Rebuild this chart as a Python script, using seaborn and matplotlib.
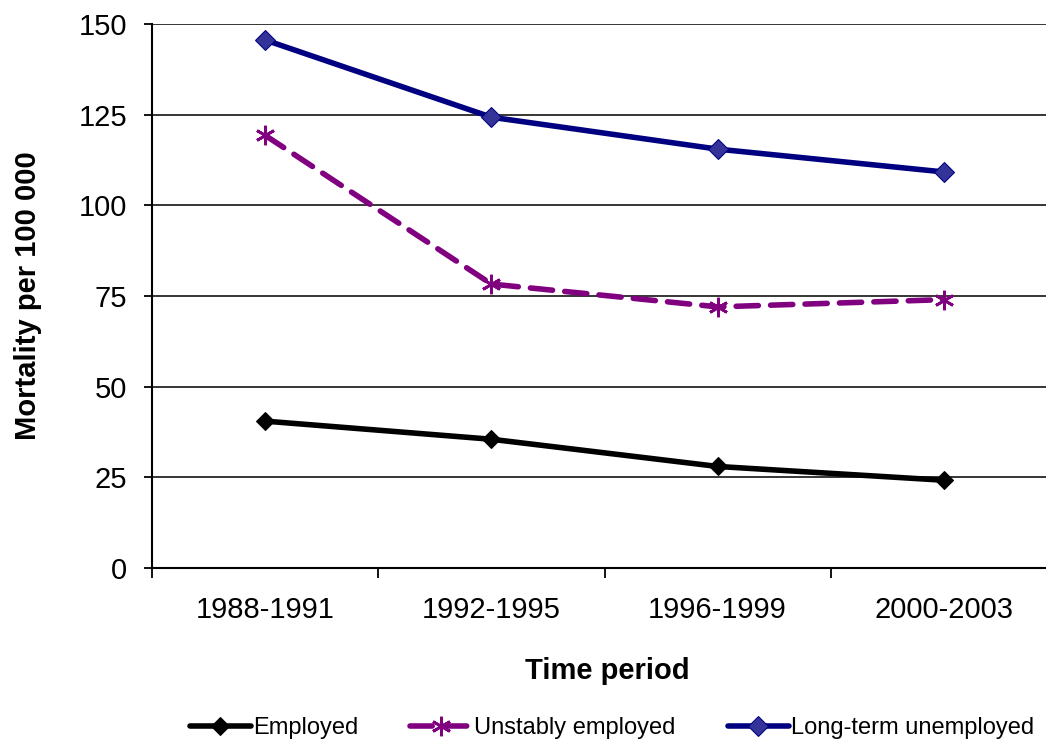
import matplotlib
matplotlib.use('Agg')
import matplotlib.pyplot as plt
import seaborn as sns
import pandas as pd
from matplotlib.ticker import FixedLocator, NullFormatter

periods = ['1988-1991', '1992-1995', '1996-1999', '2000-2003']
employed = [40.5, 35.5, 28.0, 24.2]
unstably_employed = [119.3, 78.3, 72.0, 74.0]
long_term_unemployed = [145.6, 124.3, 115.5, 109.2]
y_ticks = [0, 25, 50, 75, 100, 125, 150]

sns.set_style('white')
plt.rcParams['font.family'] = ['Liberation Sans', 'DejaVu Sans']
plt.rcParams['text.color'] = 'black'
plt.rcParams['axes.labelcolor'] = 'black'
plt.rcParams['xtick.color'] = 'black'
plt.rcParams['ytick.color'] = 'black'

fig = plt.figure(figsize=(10.46, 7.44), dpi=100)
# axes right edge runs past the figure, as in the reference
ax = fig.add_axes([152 / 1046, 176 / 744, 905 / 1046, 544 / 744])

df = pd.DataFrame({'period': periods,
                   'Employed': employed,
                   'Unstably employed': unstably_employed,
                   'Long-term unemployed': long_term_unemployed})

sns.lineplot(data=df, x='period', y='Employed', ax=ax, color='black', lw=4,
             marker='D', markersize=9, markerfacecolor='black', markeredgecolor='black',
             label='Employed')
sns.lineplot(data=df, x='period', y='Unstably employed', ax=ax, color='#800080', lw=4,
             dashes=(4, 2.2), marker=(6, 2, 0), markersize=14, markeredgewidth=2,
             markeredgecolor='#800080', label='Unstably employed')
sns.lineplot(data=df, x='period', y='Long-term unemployed', ax=ax, color='#000080', lw=4,
             marker='D', markersize=10, markerfacecolor='#333399', markeredgecolor='#000080',
             label='Long-term unemployed')
for ln in ax.lines:
    ln.set_dash_capstyle('round')

ax.set_xlim(-0.5, 3.5)
ax.set_ylim(0, 150)
ax.set_yticks(y_ticks)
ax.yaxis.grid(True, color='black', lw=1.1)
ax.set_axisbelow(True)

ax.set_xticks(range(len(periods)))
ax.set_xticklabels(periods)
ax.xaxis.set_minor_locator(FixedLocator([-0.5, 0.5, 1.5, 2.5, 3.5]))
ax.xaxis.set_minor_formatter(NullFormatter())
ax.tick_params(axis='x', which='major', length=0, pad=20, labelsize=21)
ax.tick_params(axis='x', which='minor', length=7, width=1.3, color='black', direction='out', bottom=True)
ax.tick_params(axis='y', which='major', length=6, width=1.3, color='black', direction='out',
               left=True, pad=12, labelsize=21)

for side in ['top', 'right']:
    ax.spines[side].set_visible(False)
for side in ['left', 'bottom']:
    ax.spines[side].set_color('black')
    ax.spines[side].set_linewidth(1.5)

ax.set_xlabel('Time period', fontsize=21, fontweight='bold')
ax.xaxis.set_label_coords((607 - 152) / 905, -0.163)
ax.set_ylabel('Mortality per 100 000', fontsize=21, fontweight='bold')
ax.yaxis.set_label_coords((42 - 152) / 905, 0.5)

handles, labels = ax.get_legend_handles_labels()
ax.get_legend().remove()
fig.legend(handles, labels, loc='center', bbox_to_anchor=(612 / 1046, 16 / 744), ncol=3,
           frameon=False, fontsize=17, handlelength=2.6, handletextpad=0.1, columnspacing=2.2)

fig.savefig('out.png', dpi=100)
